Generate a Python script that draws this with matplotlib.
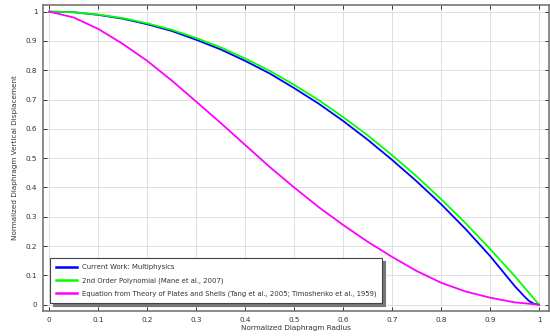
import matplotlib
matplotlib.use("Agg")
import matplotlib.pyplot as plt

# normalized radius sample points
r = [0.0, 0.05, 0.1, 0.15, 0.2, 0.25, 0.3, 0.35, 0.4, 0.45, 0.5,
     0.55, 0.6, 0.65, 0.7, 0.75, 0.8, 0.85, 0.9, 0.95, 1.0]

# current work (multiphysics) has a few extra points near the edge
r_blue = [0.0, 0.05, 0.1, 0.15, 0.2, 0.25, 0.3, 0.35, 0.4, 0.45, 0.5,
          0.55, 0.6, 0.65, 0.7, 0.75, 0.8, 0.85, 0.9, 0.95, 0.97, 0.98, 0.99, 1.0]
w_multiphysics = [1.0, 0.998, 0.989, 0.976, 0.957, 0.934, 0.904, 0.871, 0.832, 0.789, 0.739,
                  0.686, 0.627, 0.563, 0.494, 0.421, 0.343, 0.258, 0.166, 0.064, 0.028, 0.012, 0.003, 0.0]

w_polynomial = [1.0, 0.998, 0.99, 0.978, 0.96, 0.938, 0.91, 0.878, 0.84, 0.798, 0.75,
                0.698, 0.64, 0.578, 0.51, 0.438, 0.36, 0.278, 0.19, 0.098, 0.0]

w_plates = [1.0, 0.980, 0.941, 0.89, 0.832, 0.765, 0.693, 0.62, 0.545, 0.47, 0.40,
            0.333, 0.272, 0.215, 0.163, 0.115, 0.075, 0.045, 0.024, 0.008, 0.0]

labels = ["Current Work: Multiphysics",
          "2nd Order Polynomial (Mane et al., 2007)",
          "Equation from Theory of Plates and Shells (Tang et al., 2005; Timoshenko et al., 1959)"]

fs = 5.2
fig = plt.figure(figsize=(5.5, 3.36), dpi=100)
ax = fig.add_axes([0.078, 0.0744, 0.92, 0.911])

ax.plot(r_blue, w_multiphysics, color="#0000ff", lw=1.3, label=labels[0])
ax.plot(r, w_polynomial, color="#00ff00", lw=1.3, label=labels[1])
ax.plot(r, w_plates, color="#ff00ff", lw=1.3, label=labels[2])

ax.set_xlim(-0.013, 1.02)
ax.set_ylim(-0.0215, 1.023)
ax.set_xticks([0, 0.1, 0.2, 0.3, 0.4, 0.5, 0.6, 0.7, 0.8, 0.9, 1])
ax.set_xticklabels(["0", "0.1", "0.2", "0.3", "0.4", "0.5", "0.6", "0.7", "0.8", "0.9", "1"])
ax.set_yticks([0, 0.1, 0.2, 0.3, 0.4, 0.5, 0.6, 0.7, 0.8, 0.9, 1])
ax.set_yticklabels(["0", "0.1", "0.2", "0.3", "0.4", "0.5", "0.6", "0.7", "0.8", "0.9", "1"])
ax.tick_params(direction="in", top=True, right=True, length=3, width=0.7,
               colors="#333333", labelsize=fs, pad=4)
ax.grid(True, color="#e0e0e0", lw=0.7)
ax.set_axisbelow(True)
for s in ax.spines.values():
    s.set_color("#777777")
    s.set_linewidth(1.2)

ax.set_xlabel("Normalized Diaphragm Radius", fontsize=fs, color="#333333", labelpad=2)
ax.set_ylabel("Normalized Diaphragm Vertical Displacement", fontsize=fs, color="#333333", labelpad=6)

leg = ax.legend(loc="lower left", bbox_to_anchor=(0.014, 0.025), borderaxespad=0,
                fontsize=4.95, fancybox=False, shadow={"color": "#777777", "alpha": 1},
                handlelength=3.1, handletextpad=0.6, labelspacing=1.0,
                borderpad=0.9, framealpha=1)
leg.get_frame().set_edgecolor("#444444")
leg.get_frame().set_linewidth(0.8)
for t in leg.get_texts():
    t.set_color("#333333")
for line in leg.get_lines():
    line.set_linewidth(1.8)

fig.savefig("out.png", dpi=100)
